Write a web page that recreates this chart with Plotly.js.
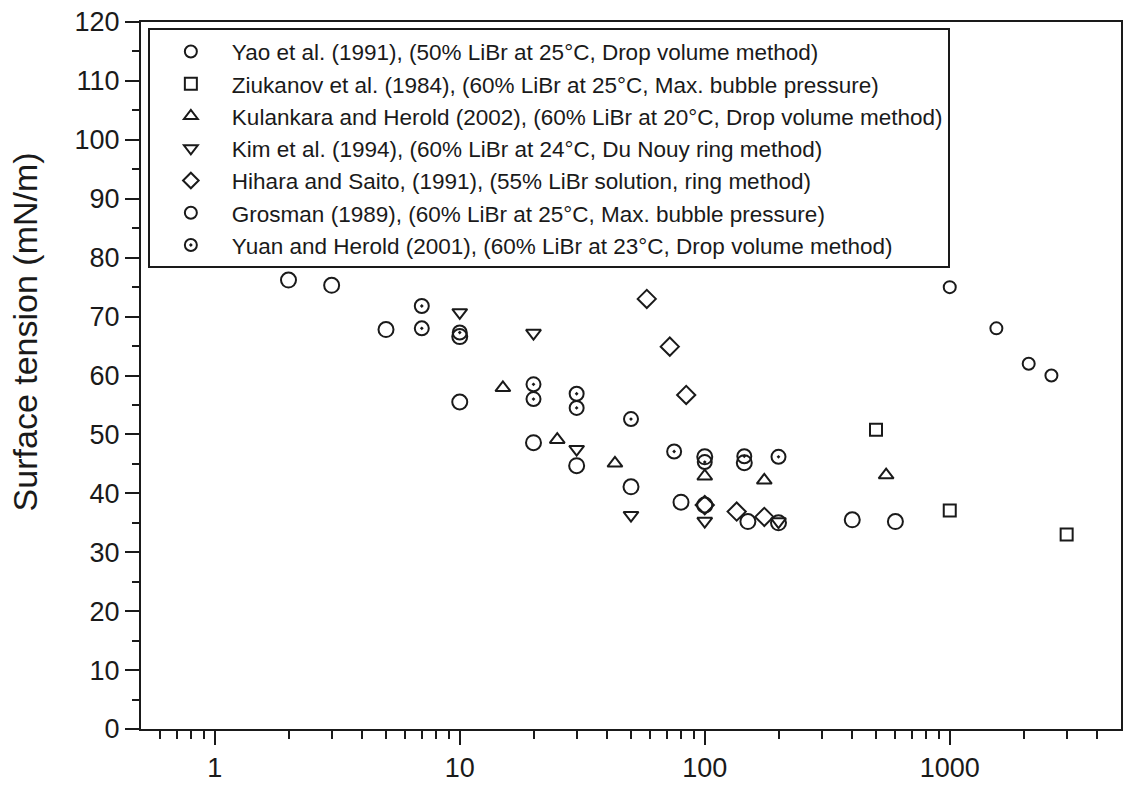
<!DOCTYPE html>
<html>
<head>
<meta charset="utf-8">
<script src="https://cdn.plot.ly/plotly-3.0.1.min.js"></script>
<style>html,body{margin:0;padding:0;background:#fff;}#chart{width:1126px;height:787px;}</style>
</head>
<body>
<div id="chart"></div>
<script>
// Series names
const seriesNames = [
  "Yao et al. (1991), (50% LiBr at 25°C, Drop volume method)",
  "Ziukanov et al. (1984), (60% LiBr at 25°C, Max. bubble pressure)",
  "Kulankara and Herold (2002), (60% LiBr at 20°C, Drop volume method)",
  "Kim et al. (1994), (60% LiBr at 24°C, Du Nouy ring method)",
  "Hihara and Saito, (1991), (55% LiBr solution, ring method)",
  "Grosman (1989), (60% LiBr at 25°C, Max. bubble pressure)",
  "Yuan and Herold (2001), (60% LiBr at 23°C, Drop volume method)"
];
const yTitle = "Surface tension (mN/m)";

// Data (x on log scale)
const yaoX = [2, 3, 5, 10, 10, 20, 30, 50, 80, 100, 100, 145, 150, 200, 400, 600];
const yaoY = [76.2, 75.3, 67.8, 66.6, 55.5, 48.6, 44.7, 41.1, 38.5, 46.2, 38.0, 45.2, 35.2, 35.0, 35.5, 35.2];

const ziukanovX = [500, 1000, 3000];
const ziukanovY = [50.8, 37.1, 33.0];

const kulankaraX = [15, 25, 43, 100, 175, 550];
const kulankaraY = [57.9, 49.1, 45.1, 42.9, 42.2, 43.1];

const kimX = [10, 20, 30, 50, 100, 200];
const kimY = [70.7, 67.2, 47.5, 36.3, 35.3, 35.2];

const hiharaX = [58, 72, 84, 100, 135, 175];
const hiharaY = [73.0, 64.9, 56.7, 38.0, 36.9, 36.0];

const grosmanX = [1000, 1550, 2100, 2600];
const grosmanY = [75.0, 68.0, 62.0, 60.0];

const yuanX = [7, 7, 10, 20, 20, 30, 30, 50, 75, 100, 145, 200];
const yuanY = [71.8, 68.0, 67.3, 58.5, 56.0, 56.9, 54.5, 52.6, 47.1, 45.3, 46.3, 46.2];

// Axis ticks
const xMajorTicks = [1, 10, 100, 1000];
const xMajorLabels = ["1", "10", "100", "1000"];
const xMinorTicks = [0.6, 0.7, 0.8, 0.9, 2, 3, 4, 5, 6, 7, 8, 9, 20, 30, 40, 50, 60, 70, 80, 90,
  200, 300, 400, 500, 600, 700, 800, 900, 2000, 3000, 4000];
const yMajorTicks = [0, 10, 20, 30, 40, 50, 60, 70, 80, 90, 100, 110, 120];

const ink = "#1a1a1a";
function tr(name, x, y, symbol, size) {
  return {
    type: "scatter", mode: "markers", name: name, x: x, y: y,
    marker: {symbol: symbol, size: size, color: ink, line: {color: ink, width: 2}},
    hoverinfo: "x+y"
  };
}

const data = [
  tr(seriesNames[0], yaoX, yaoY, "circle-open", 15),
  tr(seriesNames[1], ziukanovX, ziukanovY, "square-open", 12),
  tr(seriesNames[2], kulankaraX, kulankaraY, "triangle-up-open", 13),
  tr(seriesNames[3], kimX, kimY, "triangle-down-open", 13),
  tr(seriesNames[4], hiharaX, hiharaY, "diamond-open", 14),
  tr(seriesNames[5], grosmanX, grosmanY, "circle-open", 12),
  tr(seriesNames[6], yuanX, yuanY, "circle-open-dot", 14)
];

const font = "Liberation Sans, Arial, sans-serif";
const layout = {
  width: 1126, height: 787,
  margin: {l: 141, r: 5, t: 22, b: 58},
  paper_bgcolor: "#fff", plot_bgcolor: "#fff",
  font: {family: font, color: ink},
  showlegend: true,
  legend: {
    x: 0.007, y: 0.991, xanchor: "left", yanchor: "top",
    bgcolor: "#fff", bordercolor: ink, borderwidth: 2,
    font: {family: font, size: 22.5, color: ink},
    itemsizing: "constant", itemwidth: 72, tracegroupgap: 0,
    entrywidth: 780, entrywidthmode: "pixels"
  },
  xaxis: {
    type: "log", range: [Math.log10(0.5), Math.log10(5000)],
    tickmode: "array", tickvals: xMajorTicks, ticktext: xMajorLabels,
    ticks: "outside", ticklen: 14, tickwidth: 2, tickcolor: ink,
    minor: {tickmode: "array", tickvals: xMinorTicks, ticks: "outside", ticklen: 8, tickwidth: 2, tickcolor: ink, showgrid: false},
    showline: true, linewidth: 2, linecolor: ink, mirror: true,
    showgrid: false, zeroline: false,
    tickfont: {family: font, size: 27, color: ink}
  },
  yaxis: {
    range: [0, 120],
    tickmode: "array", tickvals: yMajorTicks,
    ticks: "outside", ticklen: 14, tickwidth: 2, tickcolor: ink,
    minor: {dtick: 5, ticks: "outside", ticklen: 7, tickwidth: 2, tickcolor: ink, showgrid: false},
    showline: true, linewidth: 2, linecolor: ink, mirror: true,
    showgrid: false, zeroline: false,
    tickfont: {family: font, size: 27, color: ink}
  },
  annotations: [{
    text: yTitle, textangle: -90, showarrow: false,
    xref: "paper", yref: "paper", x: -0.118, y: 0.5615,
    xanchor: "center", yanchor: "middle",
    font: {family: font, size: 34, color: ink}
  }]
};

Plotly.newPlot("chart", data, layout, {displayModeBar: false, staticPlot: true});
</script>
</body>
</html>
